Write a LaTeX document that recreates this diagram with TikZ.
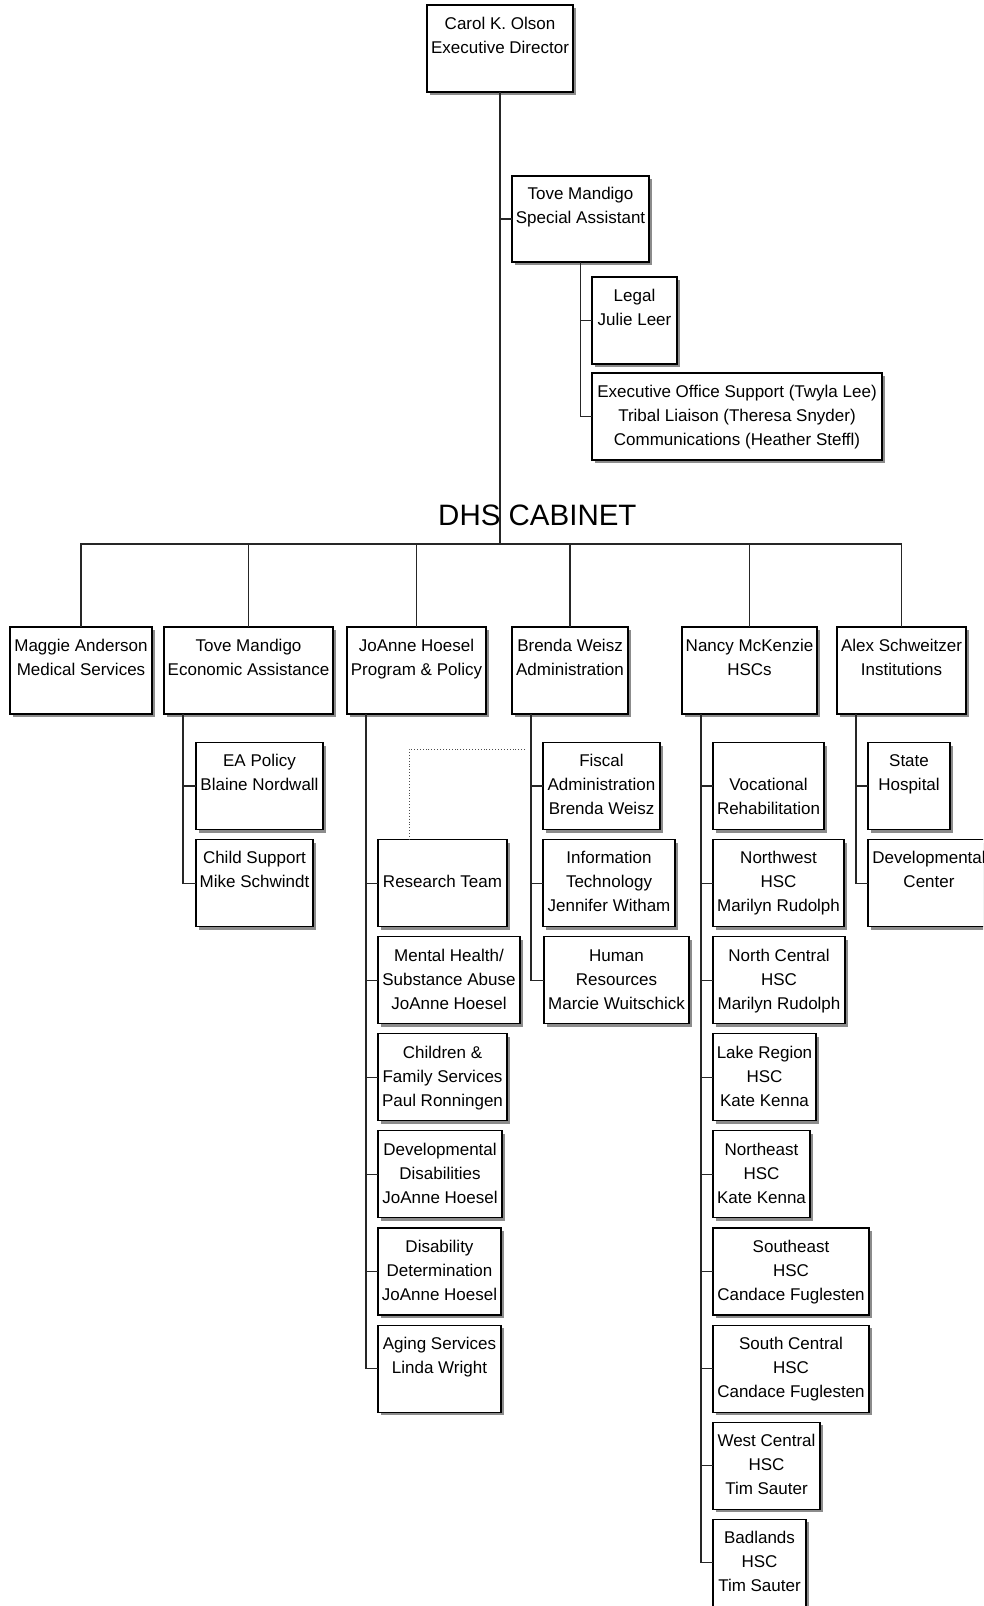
\documentclass[tikz,border=0pt]{standalone}
\usepackage{fontspec}
\newfontfamily\orgfont{Liberation Sans}
\tikzset{
  orgbox/.style={draw=black, line width=1.1pt, fill=white, inner sep=0pt, outer sep=0pt,
    align=center, font={\orgfont\fontsize{17}{24}\selectfont}},
  boxshadow/.style={fill=black!45},
  link/.style={draw=black!85, line width=1.1pt},
  dotlink/.style={draw=black!70, line width=0.9pt, dotted},
  cabinet/.style={font={\orgfont\fontsize{29.5}{32}\selectfont}, inner sep=0pt, anchor=base west}
}
% name, x1, y1, x2, y2, line1, line2, line3
\newcommand\obox[8]{%
  \fill[boxshadow] (#2+3,#3+3) rectangle (#4+3,#5+3);
  \node[orgbox, anchor=north west, minimum width={(#4-#2)*1pt}, minimum height={(#5-#3)*1pt}]
    (#1) at (#2,#3) {\strut#6\\\strut#7\\\strut#8};
}
% child box: name, x1, row, x2, line1, line2, line3
\newcommand\cbox[7]{%
  \pgfmathsetmacro\cyA{742.5+97.1*#3}%
  \pgfmathsetmacro\cyB{\cyA+87}%
  \obox{#1}{#2}{\cyA}{#4}{\cyB}{#5}{#6}{#7}%
}
\begin{document}
\begin{tikzpicture}[x=1pt,y=-1pt]
\fill[white] (0,0) rectangle (983,1606);
\path[use as bounding box, clip] (0,0) rectangle (983,1606);

% top
\obox{carol}{427}{5}{573}{92}{Carol K. Olson}{Executive Director}{}
\obox{tovesa}{512}{176}{649}{262}{Tove Mandigo}{Special Assistant}{}
\obox{legal}{592}{277}{677}{364}{Legal}{Julie Leer}{}
\obox{exec}{592}{373}{882}{460}{Executive Office Support (Twyla Lee)}{Tribal Liaison (Theresa Snyder)}{Communications (Heather Steffl)}

\node[cabinet] (cab) at (438,525) {DHS CABINET};
\coordinate (bus) at (500,544);

% cabinet level
\obox{maggie}{10}{627}{152}{714}{Maggie Anderson}{Medical Services}{}
\obox{toveea}{164}{627}{333}{714}{Tove Mandigo}{Economic Assistance}{}
\obox{joanne}{347}{627}{486}{714}{JoAnne Hoesel}{Program \& Policy}{}
\obox{brenda}{512}{627}{628}{714}{Brenda Weisz}{Administration}{}
\obox{nancy}{682}{627}{817}{714}{Nancy McKenzie}{HSCs}{}
\obox{alex}{837}{627}{966}{714}{Alex Schweitzer}{Institutions}{}

% Economic Assistance
\cbox{eapol}{196}{0}{323}{EA Policy}{Blaine Nordwall}{}
\cbox{childsup}{196}{1}{313}{Child Support}{Mike Schwindt}{}

% Program & Policy
\cbox{research}{378}{1}{507}{}{Research Team}{}
\cbox{mental}{378}{2}{520}{Mental Health/}{Substance Abuse}{JoAnne Hoesel}
\cbox{children}{378}{3}{507}{Children \&}{Family Services}{Paul Ronningen}
\cbox{devdis}{378}{4}{502}{Developmental}{Disabilities}{JoAnne Hoesel}
\cbox{disdet}{378}{5}{501}{Disability}{Determination}{JoAnne Hoesel}
\cbox{aging}{378}{6}{501}{Aging Services}{Linda Wright}{}

% Administration
\cbox{fiscal}{543}{0}{660}{Fiscal}{Administration}{Brenda Weisz}
\cbox{infotech}{543}{1}{675}{Information}{Technology}{Jennifer Witham}
\cbox{hr}{544}{2}{689}{Human}{Resources}{Marcie Wuitschick}

% HSCs
\cbox{voc}{713}{0}{824}{}{Vocational}{Rehabilitation}
\cbox{nw}{713}{1}{844}{Northwest}{HSC}{Marilyn Rudolph}
\cbox{nc}{713}{2}{845}{North Central}{HSC}{Marilyn Rudolph}
\cbox{lake}{713}{3}{816}{Lake Region}{HSC}{Kate Kenna}
\cbox{ne}{713}{4}{810}{Northeast}{HSC}{Kate Kenna}
\cbox{se}{713}{5}{869}{Southeast}{HSC}{Candace Fuglesten}
\cbox{sc}{713}{6}{869}{South Central}{HSC}{Candace Fuglesten}
\cbox{wc}{713}{7}{820}{West Central}{HSC}{Tim Sauter}
\cbox{bad}{713}{8}{806}{Badlands}{HSC}{Tim Sauter}

% Institutions
\cbox{state}{868}{0}{950}{State}{Hospital}{}
\cbox{devcen}{868}{1}{990}{Developmental}{Center}{}

% connectors
\draw[link] (carol.south) -- (bus);
\draw[link] (tovesa.west) -- (tovesa.west -| carol.south);
\draw[link] (tovesa.south) |- (legal.west);
\draw[link] (tovesa.south) |- (exec.west);

\draw[link] (maggie.north) -- (maggie.north |- bus) -- (alex.north |- bus) -- (alex.north);
\foreach \n in {toveea,joanne,brenda,nancy}
  \draw[link] (\n.north) -- (\n.north |- bus);

\coordinate (earoot) at ([xshift=19pt]toveea.south west);
\coordinate (pproot) at ([xshift=19pt]joanne.south west);
\coordinate (adroot) at ([xshift=19pt]brenda.south west);
\coordinate (hsroot) at ([xshift=19pt]nancy.south west);
\coordinate (inroot) at ([xshift=19pt]alex.south west);

\foreach \c in {eapol,childsup} \draw[link] (earoot) |- (\c.west);
\foreach \c in {research,mental,children,devdis,disdet,aging} \draw[link] (pproot) |- (\c.west);
\foreach \c in {fiscal,infotech,hr} \draw[link] (adroot) |- (\c.west);
\foreach \c in {voc,nw,nc,lake,ne,se,sc,wc,bad} \draw[link] (hsroot) |- (\c.west);
\foreach \c in {state,devcen} \draw[link] (inroot) |- (\c.west);

% dotted relation
\coordinate (dotend) at (525,749);
\coordinate (dotcorner) at (409,749);
\draw[dotlink] (dotend) -- (dotcorner) -- (dotcorner |- research.north);
\end{tikzpicture}
\end{document}
